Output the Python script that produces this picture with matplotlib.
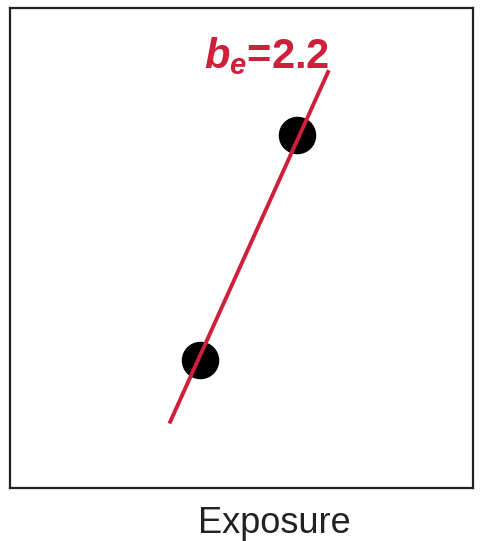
import matplotlib.pyplot as plt

# exposure / response values (arbitrary units 0-10)
point_x = [4.10, 6.20]
point_y = [2.67, 7.35]
fit_x = [3.46, 6.87]
fit_y = [1.38, 8.67]
slope_label = '$b_e$=2.2'
x_label = 'Exposure'

plt.rcParams['mathtext.fontset'] = 'custom'
plt.rcParams['mathtext.it'] = 'Liberation Sans:italic:bold'
plt.rcParams['mathtext.rm'] = 'Liberation Sans:bold'

red = '#cf1f3a'

fig = plt.figure(figsize=(4.85, 5.41), dpi=100)
ax = fig.add_axes([0.0206, 0.098, 0.9546, 0.887])

# points first, the fitted line is drawn over them
ax.plot(point_x, point_y, 'o', color='black', ms=26, zorder=2)
ax.plot(fit_x, fit_y, color=red, lw=2.8, zorder=3)
ax.text(5.55, 8.75, slope_label, color=red, fontsize=30, fontweight='bold',
        family='Liberation Sans', ha='center', va='baseline', zorder=1)

ax.set_xlim(0, 10)
ax.set_ylim(0, 10)
ax.set_xticks([])
ax.set_yticks([])
for s in ax.spines.values():
    s.set_linewidth(1.6)
    s.set_color('#222222')

fig.text(274.5 / 485, 8 / 541, x_label, fontsize=26, family='Liberation Sans',
         color='#222222', ha='center', va='baseline')

fig.savefig('out.png', dpi=100)
